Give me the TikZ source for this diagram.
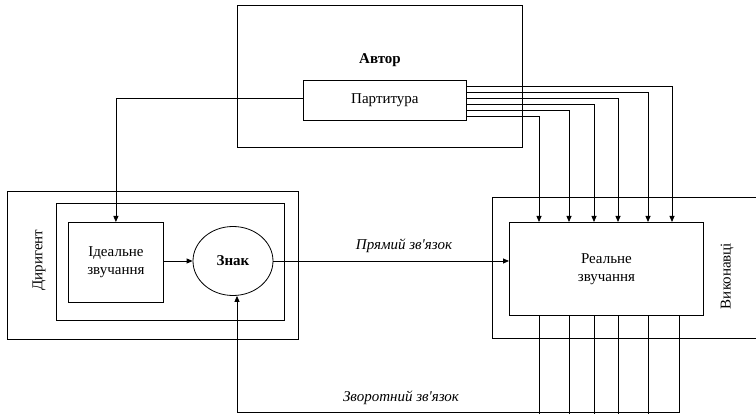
\documentclass[tikz,border=0pt]{standalone}
\usepackage{fontspec}
\setmainfont{Liberation Serif}
\usetikzlibrary{arrows.meta,calc,shapes.geometric}
\begin{document}
\begin{tikzpicture}[x=1pt,y=-1pt,
  line width=0.8pt,
  box/.style={draw, line width=0.8pt, inner sep=0pt, anchor=north west, align=center, font=\fontsize{15}{18}\selectfont},
  lbl/.style={inner sep=0pt, font=\fontsize{15}{18}\selectfont},
  arr/.style={-{Triangle[length=6pt,width=5pt]}}]
\useasboundingbox (0,0) rectangle (756,414);
\clip (0,0) rectangle (756,414);
% Author
\node[box, minimum width=285pt, minimum height=142pt] (author) at (237,5) {};
\node[lbl, font=\fontsize{15}{18}\selectfont\bfseries] (avtor) at (380,60) {Автор};
\node[box, minimum width=163pt, minimum height=40pt] (part) at (303,80) {Партитура};
% Conductor
\node[box, minimum width=291pt, minimum height=148pt] (dirouter) at (7,191) {};
\node[box, minimum width=228pt, minimum height=117pt] (dirinner) at (56,203) {};
\node[box, minimum width=95pt, minimum height=80pt] (ideal) at (68,222) {Ідеальне\\звучання};
\node[draw, ellipse, inner sep=0pt, minimum width=80pt, minimum height=69pt, font=\fontsize{15}{18}\selectfont\bfseries] (znak) at (233,261) {Знак};
\node[lbl, rotate=90] (dirlbl) at (39,260) {Диригент};
% Executors
\node[box, minimum width=300pt, minimum height=141pt] (exouter) at (492,197) {};
\node[box, minimum width=194pt, minimum height=93pt] (real) at (509,222) {Реальне\\звучання};
\node[lbl, rotate=90] (exlbl) at (727,276) {Виконавці};
% Connectors
\draw[arr] (part.west |- 0,98) -| (ideal.north);
\draw[arr] (ideal.east |- znak.west) -- (znak.west);
\draw[arr] (znak.east) -- (znak.east -| real.west);
\node[lbl, font=\fontsize{15}{18}\selectfont\itshape] (direct) at (404,246) {Прямий зв\textquotesingle язок};
\foreach \dy/\dx in {6/163,12/139,18/109,24/85,30/60,36/30}
  \draw[arr] ($(part.north east)+(0,\dy)$) -| ($(real.north west)+(\dx,0)$);
\foreach \dx in {30,60,85,109,139}
  \draw ($(real.south west)+(\dx,0)$) -- ++(0,110);
\coordinate (fbend) at ($(real.south west)+(170,0)$);
\coordinate (fbcorner) at (237,412);
\draw[arr] (fbend) |- (fbcorner) -- (fbcorner |- znak.south);
\node[lbl, font=\fontsize{15}{18}\selectfont\itshape] (back) at (401,398) {Зворотний зв\textquotesingle язок};
\end{tikzpicture}
\end{document}
